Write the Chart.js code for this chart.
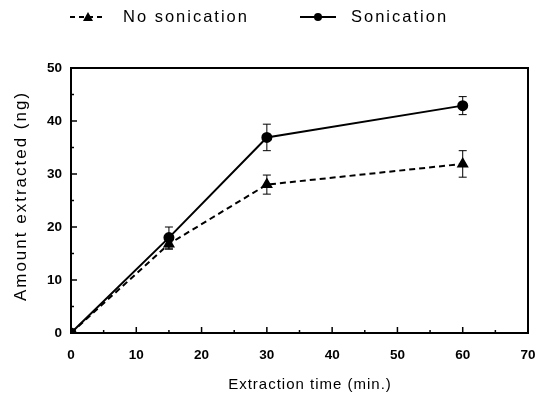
<!DOCTYPE html>
<html>
<head>
<meta charset="utf-8">
<script src="https://cdn.jsdelivr.net/npm/chart.js@4"></script>
<style>
  html, body { margin: 0; padding: 0; background: #fff; }
  #wrap { width: 537px; height: 401px; }
</style>
</head>
<body>
<div id="wrap"><canvas id="chart" width="537" height="401"></canvas></div>
<script>
// data
const times = [0, 15, 30, 60];
const sonication = [0, 18, 36.9, 42.9];
const sonicationErr = [0, 2, 2.5, 1.7];
const noSonication = [0, 16.8, 28, 31.9];
const noSonicationErr = [0, 1, 1.8, 2.5];
const seriesNames = ['No sonication', 'Sonication'];
const xTitle = 'Extraction time (min.)';
const yTitle = 'Amount extracted (ng)';
const xTicks = [0, 10, 20, 30, 40, 50, 60, 70];
const yTicks = [0, 10, 20, 30, 40, 50];

const FONT = '"Liberation Sans", Arial, sans-serif';

// error bars, inward ticks, frame, titles and legend
const decorPlugin = {
    id: 'decor',
    afterDatasetsDraw(chart) {
        const { ctx, chartArea: a, scales: { x, y } } = chart;
        ctx.save();
        ctx.strokeStyle = '#000';
        ctx.fillStyle = '#000';

        // error bars
        ctx.lineWidth = 1;
        const series = [[noSonication, noSonicationErr], [sonication, sonicationErr]];
        series.forEach(([vals, errs]) => {
            errs.forEach((e, i) => {
                if (!e) return;
                const px = x.getPixelForValue(times[i]);
                const hi = y.getPixelForValue(vals[i] + e);
                const lo = y.getPixelForValue(vals[i] - e);
                ctx.beginPath();
                ctx.moveTo(px, hi); ctx.lineTo(px, lo);
                ctx.moveTo(px - 4, hi); ctx.lineTo(px + 4, hi);
                ctx.moveTo(px - 4, lo); ctx.lineTo(px + 4, lo);
                ctx.stroke();
            });
        });

        // frame
        ctx.lineWidth = 2;
        ctx.strokeRect(a.left, a.top, a.right - a.left, a.bottom - a.top);

        // inward ticks (major every 10, minor every 5)
        ctx.lineWidth = 1.5;
        for (let v = 0; v <= 70; v += 5) {
            const px = x.getPixelForValue(v);
            const len = v % 10 === 0 ? 6 : 3;
            ctx.beginPath();
            ctx.moveTo(px, a.bottom); ctx.lineTo(px, a.bottom - len);
            ctx.stroke();
        }
        for (let v = 0; v <= 50; v += 5) {
            const py = y.getPixelForValue(v);
            const len = v % 10 === 0 ? 6 : 3;
            ctx.beginPath();
            ctx.moveTo(a.left, py); ctx.lineTo(a.left + len, py);
            ctx.stroke();
        }

        // axis titles (spaced out like the original)
        ctx.textBaseline = 'middle';
        ctx.textAlign = 'center';
        ctx.font = '15px ' + FONT;
        ctx.letterSpacing = '1px';
        ctx.fillText(xTitle, 310, 385);
        ctx.save();
        ctx.translate(21, 196);
        ctx.rotate(-Math.PI / 2);
        ctx.font = '17px ' + FONT;
        ctx.letterSpacing = '2px';
        ctx.fillText(yTitle, 0, 0);
        ctx.restore();

        // legend
        ctx.textAlign = 'left';
        ctx.font = '16.5px ' + FONT;
        ctx.letterSpacing = '2px';
        const ly = 17;
        ctx.lineWidth = 2;
        ctx.setLineDash([5, 4]);
        ctx.beginPath(); ctx.moveTo(70, ly); ctx.lineTo(104, ly); ctx.stroke();
        ctx.setLineDash([]);
        ctx.beginPath();
        ctx.moveTo(88, ly - 5); ctx.lineTo(93, ly + 4); ctx.lineTo(83, ly + 4);
        ctx.closePath(); ctx.fill();
        ctx.fillText(seriesNames[0], 123, ly);
        ctx.beginPath(); ctx.moveTo(300, ly); ctx.lineTo(336, ly); ctx.stroke();
        ctx.beginPath(); ctx.arc(318, ly, 4, 0, Math.PI * 2); ctx.fill();
        ctx.fillText(seriesNames[1], 351, ly);

        ctx.restore();
    }
};

const toPoints = vals => vals.map((v, i) => ({ x: times[i], y: v }));

new Chart(document.getElementById('chart'), {
    type: 'line',
    data: {
        datasets: [{
            label: seriesNames[0],
            data: toPoints(noSonication),
            borderColor: '#000',
            backgroundColor: '#000',
            borderWidth: 2,
            borderDash: [6, 4],
            pointStyle: 'triangle',
            pointRadius: 5,
            tension: 0
        }, {
            label: seriesNames[1],
            data: toPoints(sonication),
            borderColor: '#000',
            backgroundColor: '#000',
            borderWidth: 2,
            pointStyle: 'circle',
            pointRadius: 4.5,
            tension: 0
        }]
    },
    options: {
        responsive: false,
        animation: false,
        layout: { padding: { top: 68, right: 9, left: 0, bottom: 0 } },
        plugins: { legend: { display: false }, tooltip: { enabled: false } },
        scales: {
            x: {
                type: 'linear',
                min: 0, max: 70,
                afterBuildTicks: s => { s.ticks = xTicks.map(v => ({ value: v })); },
                afterFit: s => { s.height = 68; s.paddingLeft = 0; s.paddingRight = 0; },
                grid: { display: false, drawTicks: false },
                border: { display: false },
                ticks: { color: '#000', padding: 14, font: { family: FONT, size: 13.5, weight: 'bold' } }
            },
            y: {
                min: 0, max: 50,
                afterBuildTicks: s => { s.ticks = yTicks.map(v => ({ value: v })); },
                afterFit: s => { s.width = 71; s.paddingTop = 0; s.paddingBottom = 0; },
                grid: { display: false, drawTicks: false },
                border: { display: false },
                ticks: { color: '#000', padding: 9, font: { family: FONT, size: 13.5, weight: 'bold' } }
            }
        }
    },
    plugins: [decorPlugin]
});
</script>
</body>
</html>
